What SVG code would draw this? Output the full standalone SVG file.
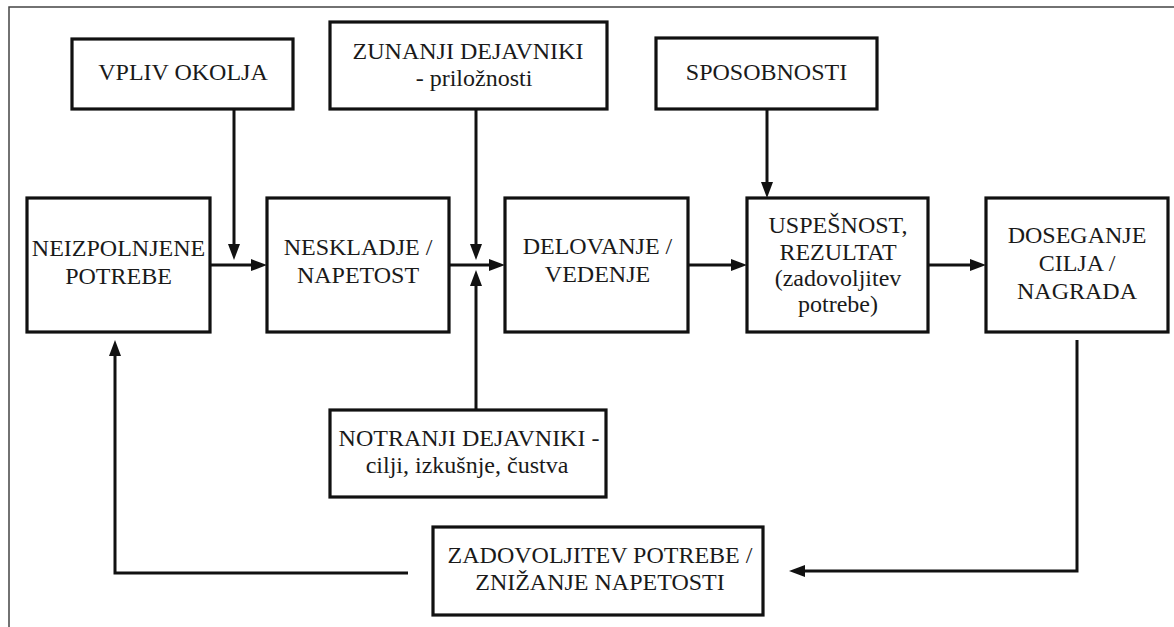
<svg xmlns="http://www.w3.org/2000/svg" width="1174" height="627" viewBox="0 0 1174 627">
  <style>
    .box { fill: #ffffff; stroke: #111111; stroke-width: 3.2; }
    .lbl { font-family: 'Liberation Serif', 'Times New Roman', serif; font-size: 24px; fill: #1a1a1a; text-anchor: middle; }
    .conn { fill: none; stroke: #111111; stroke-width: 3; stroke-linejoin: miter; }
    .frame { fill: none; stroke: #444444; stroke-width: 1.5; }
  </style>
  <defs>
    <marker id="arrow" markerUnits="userSpaceOnUse" markerWidth="17" markerHeight="13" refX="0" refY="6" orient="auto">
      <path d="M0,0 L16,6 L0,12 Z" fill="#111111"/>
    </marker>
  </defs>

  <rect width="1174" height="627" fill="#ffffff"/>
  <!-- outer border (runs off the right and bottom edges) -->
  <path class="frame" d="M9,627 V7 H1174"/>

  <!-- top row of influence boxes -->
  <g id="vpliv-okolja">
    <rect class="box" x="72" y="39" width="221" height="70"/>
    <text class="lbl" x="183" y="80">VPLIV OKOLJA</text>
  </g>
  <g id="zunanji-dejavniki">
    <rect class="box" x="330" y="22" width="277" height="87"/>
    <text class="lbl" x="468" y="59">ZUNANJI DEJAVNIKI</text>
    <text class="lbl" x="474" y="86">- priložnosti</text>
  </g>
  <g id="sposobnosti">
    <rect class="box" x="656" y="38" width="221" height="71"/>
    <text class="lbl" x="766.5" y="80">SPOSOBNOSTI</text>
  </g>

  <!-- main process chain -->
  <g id="neizpolnjene-potrebe">
    <rect class="box" x="27" y="198" width="183" height="134"/>
    <text class="lbl" x="118.5" y="256">NEIZPOLNJENE</text>
    <text class="lbl" x="118.5" y="284">POTREBE</text>
  </g>
  <g id="neskladje">
    <rect class="box" x="267" y="198" width="182" height="134"/>
    <text class="lbl" x="358" y="255">NESKLADJE /</text>
    <text class="lbl" x="358" y="283">NAPETOST</text>
  </g>
  <g id="delovanje">
    <rect class="box" x="505" y="198" width="183" height="134"/>
    <text class="lbl" x="597.5" y="254">DELOVANJE /</text>
    <text class="lbl" x="597.5" y="282">VEDENJE</text>
  </g>
  <g id="uspesnost">
    <rect class="box" x="747" y="198" width="181" height="134"/>
    <text class="lbl" x="838" y="233">USPEŠNOST,</text>
    <text class="lbl" x="838" y="259.5">REZULTAT</text>
    <text class="lbl" x="838" y="286">(zadovoljitev</text>
    <text class="lbl" x="838" y="312">potrebe)</text>
  </g>
  <g id="doseganje-cilja">
    <rect class="box" x="986" y="198" width="182" height="134"/>
    <text class="lbl" x="1077" y="243">DOSEGANJE</text>
    <text class="lbl" x="1077" y="271">CILJA /</text>
    <text class="lbl" x="1077" y="299">NAGRADA</text>
  </g>

  <!-- lower boxes -->
  <g id="notranji-dejavniki">
    <rect class="box" x="330" y="410" width="276" height="87"/>
    <text class="lbl" x="469" y="446">NOTRANJI DEJAVNIKI -</text>
    <text class="lbl" x="467" y="473">cilji, izkušnje, čustva</text>
  </g>
  <g id="zadovoljitev-potrebe">
    <rect class="box" x="433" y="527" width="330" height="88"/>
    <text class="lbl" x="600" y="563">ZADOVOLJITEV POTREBE /</text>
    <text class="lbl" x="600" y="590">ZNIŽANJE NAPETOSTI</text>
  </g>

  <!-- connectors (lines stop at the arrowhead base; marker adds 16px head) -->
  <g id="connectors">
    <path class="conn" d="M234,109 V244" marker-end="url(#arrow)"/>
    <path class="conn" d="M476,109 V244" marker-end="url(#arrow)"/>
    <path class="conn" d="M767,109 V182" marker-end="url(#arrow)"/>
    <path class="conn" d="M476,410 V286" marker-end="url(#arrow)"/>

    <path class="conn" d="M210,265 H251" marker-end="url(#arrow)"/>
    <path class="conn" d="M449,265 H489" marker-end="url(#arrow)"/>
    <path class="conn" d="M688,265 H731" marker-end="url(#arrow)"/>
    <path class="conn" d="M928,265 H970" marker-end="url(#arrow)"/>

    <path class="conn" d="M1077,340 V571 H805" marker-end="url(#arrow)"/>
    <path class="conn" d="M408,573 H115 V356" marker-end="url(#arrow)"/>
  </g>
</svg>
